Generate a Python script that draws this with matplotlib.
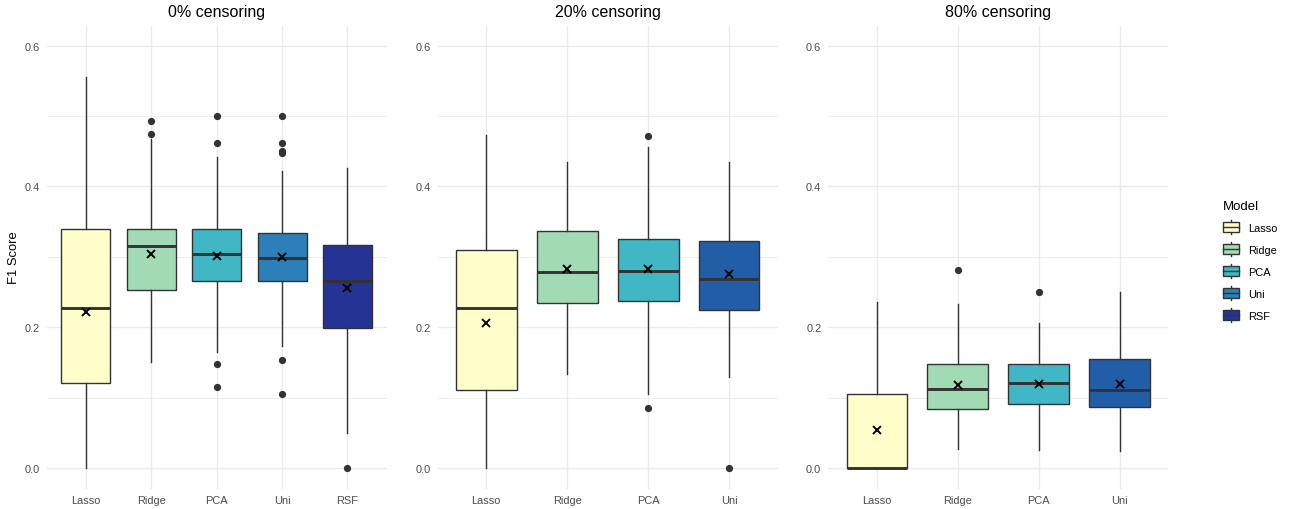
import matplotlib
matplotlib.use("Agg")
import matplotlib.pyplot as plt
from matplotlib.patches import Rectangle, Patch
from matplotlib.lines import Line2D
from matplotlib.legend_handler import HandlerBase

plt.rcParams['font.family'] = ['Liberation Sans', 'DejaVu Sans']

# ---------------- data ----------------
titles = ["0% censoring", "20% censoring", "80% censoring"]

models_0 = ["Lasso", "Ridge", "PCA", "Uni", "RSF"]
whislo_0 = [0.0, 0.1512, 0.1645, 0.1739, 0.0502]
q1_0 = [0.1204, 0.2526, 0.2659, 0.2659, 0.1990]
med_0 = [0.2275, 0.3161, 0.3038, 0.2986, 0.2654]
q3_0 = [0.3398, 0.3398, 0.3398, 0.3341, 0.3171]
whishi_0 = [0.5555, 0.4668, 0.4412, 0.4223, 0.4261]
mean_0 = [0.2213, 0.3043, 0.3014, 0.2995, 0.2564]
fliers_0 = [[], [0.4929, 0.4739], [0.5005, 0.4616, 0.1483, 0.1156],
            [0.5005, 0.4616, 0.4498, 0.4469, 0.1540, 0.1052], [0.0]]
colors_0 = ["#FFFFCC", "#A1DAB4", "#41B6C4", "#2C7FB8", "#253494"]

models_20 = ["Lasso", "Ridge", "PCA", "Uni"]
whislo_20 = [0.0, 0.1336, 0.1052, 0.1289]
q1_20 = [0.1104, 0.2341, 0.2370, 0.2246]
med_20 = [0.2280, 0.2791, 0.2806, 0.2682]
q3_20 = [0.3100, 0.3370, 0.3256, 0.3227]
whishi_20 = [0.4725, 0.4346, 0.4564, 0.4346]
mean_20 = [0.2066, 0.2825, 0.2825, 0.2758]
fliers_20 = [[], [], [0.4711, 0.0853], [0.0]]
colors_20 = ["#FFFFCC", "#A1DAB4", "#41B6C4", "#225EA8"]

models_80 = ["Lasso", "Ridge", "PCA", "Uni"]
whislo_80 = [0.0, 0.0270, 0.0261, 0.0237]
q1_80 = [0.0, 0.0844, 0.0905, 0.0863]
med_80 = [0.0, 0.1123, 0.1204, 0.1114]
q3_80 = [0.1052, 0.1479, 0.1479, 0.1545]
whishi_80 = [0.2355, 0.2327, 0.2066, 0.2502]
mean_80 = [0.0540, 0.1180, 0.1194, 0.1194]
fliers_80 = [[], [0.2815], [0.2502], []]
colors_80 = ["#FFFFCC", "#A1DAB4", "#41B6C4", "#225EA8"]

legend_models = ["Lasso", "Ridge", "PCA", "Uni", "RSF"]
legend_colors = ["#FFFFCC", "#A1DAB4", "#41B6C4", "#2C7FB8", "#253494"]

panels = [
    (models_0, whislo_0, q1_0, med_0, q3_0, whishi_0, mean_0, fliers_0, colors_0),
    (models_20, whislo_20, q1_20, med_20, q3_20, whishi_20, mean_20, fliers_20, colors_20),
    (models_80, whislo_80, q1_80, med_80, q3_80, whishi_80, mean_80, fliers_80, colors_80),
]

# ---------------- layout ----------------
W, H = 1292, 510
fig = plt.figure(figsize=(W / 100, H / 100), dpi=100)
fig.patch.set_facecolor("white")

panel_left_px = [46.7, 437.7, 828.3]
panel_w_px = 340.0
panel_top_px, panel_bot_px = 26.7, 490.0

EDGE = "#333333"
GRID = "#EBEBEB"

for i, (models, wlo, q1, med, q3, whi, mn, fl, cols) in enumerate(panels):
    ax = fig.add_axes([panel_left_px[i] / W, 1 - panel_bot_px / H,
                       panel_w_px / W, (panel_bot_px - panel_top_px) / H])
    n = len(models)
    stats = []
    for k in range(n):
        stats.append(dict(label=models[k], whislo=wlo[k], q1=q1[k], med=med[k],
                          q3=q3[k], whishi=whi[k], mean=mn[k], fliers=fl[k]))
    bp = ax.bxp(stats, positions=list(range(1, n + 1)), widths=0.75,
                patch_artist=True, showmeans=True, showcaps=False,
                boxprops=dict(edgecolor=EDGE, linewidth=1.0),
                whiskerprops=dict(color=EDGE, linewidth=1.0),
                medianprops=dict(color=EDGE, linewidth=2.1, solid_capstyle='butt'),
                meanprops=dict(marker='x', markeredgecolor='black', markerfacecolor='black',
                               markersize=6.3, markeredgewidth=1.4),
                flierprops=dict(marker='o', markerfacecolor=EDGE, markeredgecolor=EDGE,
                                markersize=4.2, linestyle='none'))
    for patch, c in zip(bp['boxes'], cols):
        patch.set_facecolor(c)
    for art in bp['boxes'] + bp['medians'] + bp['whiskers'] + bp['fliers'] + bp['means']:
        art.set_zorder(3)
    for m in bp['means']:
        m.set_zorder(5)
    for m in bp['medians']:
        m.set_zorder(4)

    ax.set_xlim(0.4, n + 0.6)
    ax.set_ylim(-0.0299, 0.6285)
    ax.set_yticks([0.0, 0.2, 0.4, 0.6])
    ax.set_yticklabels(["0.0", "0.2", "0.4", "0.6"])
    ax.set_yticks([0.1, 0.3, 0.5], minor=True)
    ax.set_xticks(list(range(1, n + 1)))
    ax.set_xticklabels(models)
    ax.grid(True, which='major', color=GRID, linewidth=1.0)
    ax.grid(True, which='minor', axis='y', color=GRID, linewidth=0.55)
    ax.set_axisbelow(True)
    for s in ax.spines.values():
        s.set_visible(False)
    ax.tick_params(which='both', length=0)
    ax.tick_params(axis='y', pad=5, labelsize=7.9, labelcolor="#4D4D4D")
    ax.tick_params(axis='x', pad=4, labelsize=7.9, labelcolor="#4D4D4D")
    ax.set_title(titles[i], fontsize=11.5, pad=7, color="black")

fig.text(14 / W, 1 - 258 / H, "F1 Score", rotation=90, ha='center', va='center',
         fontsize=9.4, color="black")


class BoxKey(HandlerBase):
    def create_artists(self, legend, orig_handle, xdescent, ydescent, width, height,
                       fontsize, trans):
        x0, y0 = -xdescent, -ydescent
        cx = x0 + width / 2
        whisk = Line2D([cx, cx], [y0, y0 + height], color=EDGE, lw=1.0, transform=trans)
        bh = height * 0.66
        rect = Rectangle((x0, y0 + (height - bh) / 2), width, bh,
                         facecolor=orig_handle.get_facecolor(), edgecolor=EDGE, lw=1.0,
                         transform=trans)
        medl = Line2D([x0, x0 + width], [y0 + height / 2] * 2, color=EDGE, lw=1.0,
                      transform=trans)
        return [whisk, rect, medl]


handles = [Patch(facecolor=c, edgecolor=EDGE) for c in legend_colors]
fig.legend(handles, legend_models, handler_map={Patch: BoxKey()},
           loc='upper left', bbox_to_anchor=(1223 / W, 1 - 201 / H),
           frameon=False, title='Model', alignment='left', fontsize=7.9,
           title_fontsize=9.5, handlelength=1.45, handleheight=1.6,
           labelspacing=0.72, handletextpad=0.8, borderpad=0, borderaxespad=0)

fig.savefig("out.png", dpi=100, facecolor="white")
